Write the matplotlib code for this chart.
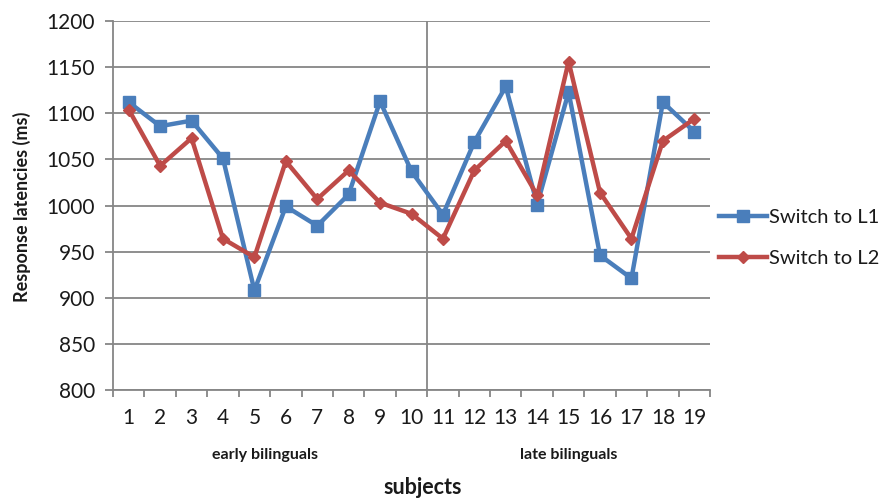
import matplotlib
matplotlib.use("Agg")
import matplotlib.pyplot as plt
import matplotlib.transforms as mtransforms

plt.rcParams['font.family'] = ['Lato', 'DejaVu Sans']

subjects = list(range(1, 20))
tick_labels = [str(s) for s in subjects]
switch_l1 = [1112, 1086, 1092, 1051, 908, 999, 978, 1012, 1113, 1037,
             990, 1069, 1129, 1001, 1123, 946, 921, 1112, 1080]
switch_l2 = [1104, 1043, 1073, 964, 944, 1048, 1007, 1038, 1003, 991,
             964, 1038, 1070, 1011, 1156, 1014, 964, 1070, 1094]
group_labels = ["early bilinguals", "late bilinguals"]
group_split = 10.5
y_ticks = list(range(800, 1201, 50))

blue = "#4A7EBB"
red = "#BE4B48"
grey = "#868686"
txt = "#1a1a1a"

fig = plt.figure(figsize=(8.92, 5.03), dpi=100)
ax = fig.add_axes([113/892, 1-390/503, (710-113)/892, (390-21)/503])

ax.plot(subjects, switch_l1, color=blue, lw=3.2, marker='s', ms=8.5,
        label="Switch to L1", zorder=3)
ax.plot(subjects, switch_l2, color=red, lw=3.2, marker='D', ms=6.5,
        label="Switch to L2", zorder=3)

ax.set_xlim(0.5, 19.5)
ax.set_ylim(800, 1200)
ax.set_yticks(y_ticks)
ax.yaxis.grid(True, color=grey, lw=1.3)
ax.set_axisbelow(True)
ax.axvline(group_split, color=grey, lw=1.3, zorder=1)

ax.set_xticks(subjects)
ax.set_xticklabels(tick_labels)
ax.set_xticks([s - 0.5 for s in subjects] + [19.5], minor=True)
ax.tick_params(axis='x', which='major', length=0, pad=13, labelsize=15, colors=txt)
ax.tick_params(axis='x', which='minor', length=5, width=1.3, color=grey)
ax.tick_params(axis='y', length=6, width=1.3, color=grey, labelsize=15,
               labelcolor=txt, pad=7)

for s in ['top', 'right']:
    ax.spines[s].set_visible(False)
for s in ['left', 'bottom']:
    ax.spines[s].set_color(grey)
    ax.spines[s].set_linewidth(1.3)

trans = mtransforms.blended_transform_factory(ax.transData, ax.transAxes)
ax.text(5.35, -0.176, group_labels[0], transform=trans, ha='center', va='center',
        fontsize=11.5, fontweight='bold', color=txt)
ax.text(15.0, -0.176, group_labels[1], transform=trans, ha='center', va='center',
        fontsize=11.5, fontweight='bold', color=txt)

fig.text(423/892, 1-488/503, "subjects", ha='center', va='center',
         fontsize=15.5, fontweight='bold', color=txt)
fig.text(22/892, 1-207/503, "Response latencies (ms)", ha='center', va='center',
         rotation=90, fontsize=13, fontweight='bold', color=txt)

leg = fig.legend(loc='center left', bbox_to_anchor=(719/892, 1-238/503),
                 frameon=False, fontsize=14.5, handlelength=2.4, handletextpad=0.1,
                 labelspacing=1.2, labelcolor=txt, borderaxespad=0, borderpad=0)

fig.savefig("out.png", dpi=100)
